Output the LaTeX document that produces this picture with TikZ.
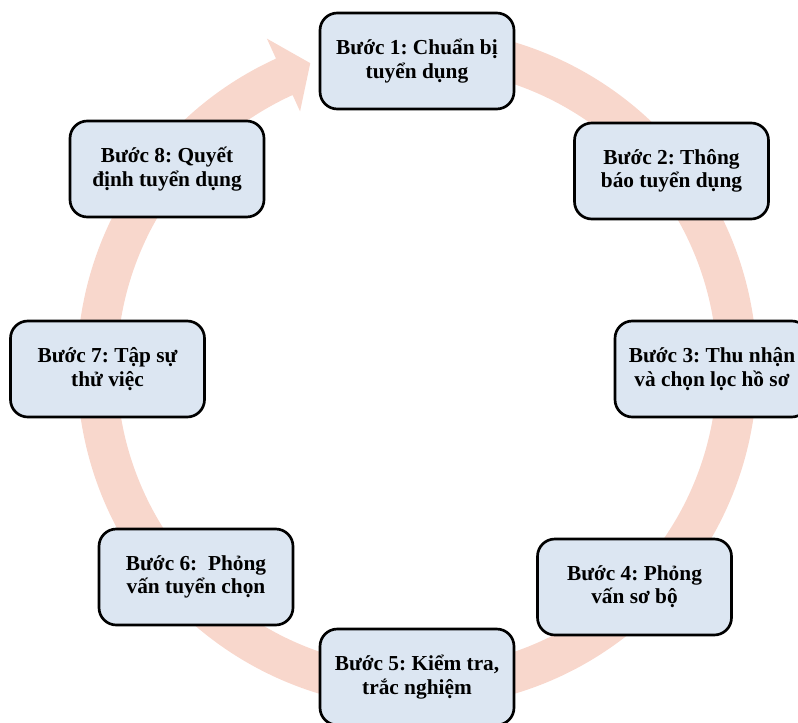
\documentclass[tikz,border=0pt]{standalone}
\usepackage{fontspec}
\setmainfont{Liberation Serif}
\usetikzlibrary{positioning}
\frenchspacing
\definecolor{ringsalmon}{HTML}{F8D7CC}
\definecolor{boxblue}{HTML}{DCE6F2}
\tikzstyle{stepbox} = [draw=black, line width=2pt, rectangle, rounded corners=13pt, fill=boxblue, minimum width=145.5pt, minimum height=72pt, align=center, font=\fontsize{16}{17.5}\selectfont\bfseries]
\tikzstyle{ring} = [fill=ringsalmon, draw=none]

\begin{document}
\begin{tikzpicture}[x=0.75pt, y=0.75pt]
    \useasboundingbox (0,0) rectangle (798,722);

    % Circular arrow behind the steps
    \fill[ring, shift={(417,354)}] (100:340) arc[start angle=100, end angle=-245.5, radius=340]
        -- (-245.5:362) -- (-250.7:323) -- (-245.5:282) -- (-245.5:300)
        arc[start angle=-245.5, end angle=100, radius=300] -- cycle;

    % Nodes
    \node (buoc1) [stepbox] at (417,661) {Bước 1: Chuẩn bị\\tuyển dụng};
    \node (buoc2) [stepbox] at (671.5,551) {Bước 2: Thông\\báo tuyển dụng};
    \node (buoc3) [stepbox] at (712,353) {Bước 3: Thu nhận\\và chọn lọc hồ sơ};
    \node (buoc4) [stepbox] at (634.5,135) {Bước 4: Phỏng\\vấn sơ bộ};
    \node (buoc5) [stepbox] at (417,45) {Bước 5: Kiểm tra,\\trắc nghiệm};
    \node (buoc6) [stepbox] at (196,145) {Bước 6:\ \ Phỏng\\vấn tuyển chọn};
    \node (buoc7) [stepbox] at (107.5,353) {Bước 7: Tập sự\\thử việc};
    \node (buoc8) [stepbox] at (167,553) {Bước 8: Quyết\\định tuyển dụng};
\end{tikzpicture}
\end{document}
